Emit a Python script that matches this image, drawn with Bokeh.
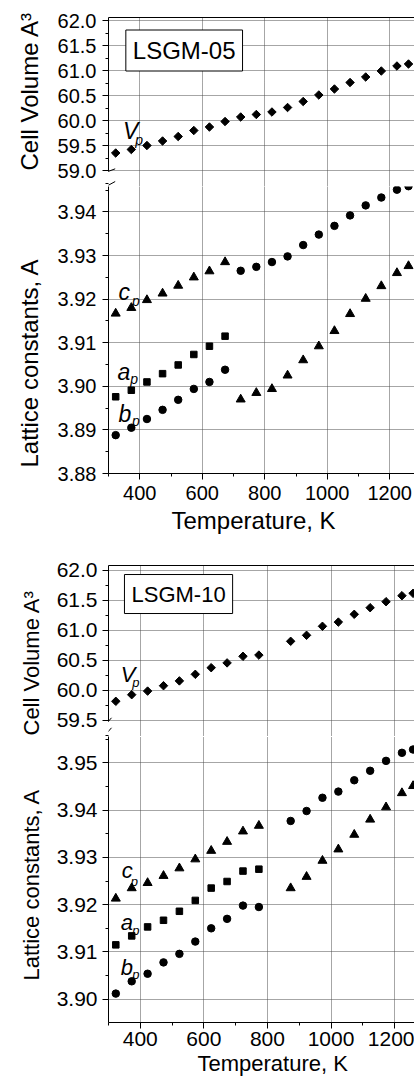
import numpy as np
from bokeh.plotting import figure
from bokeh.models import FixedTicker, PrintfTickFormatter, Label, Arrow, LinearAxis, Range1d, Title
from bokeh.layouts import column
from bokeh.embed import file_html
from bokeh.resources import INLINE

FONT = "Liberation Sans"

# ---------------- data: LSGM-05 ----------------
T05 = [323, 373, 423, 473, 523, 573, 623, 673, 723, 773,
       823, 873, 923, 973, 1023, 1073, 1123, 1173, 1223, 1260]
V05 = [59.35, 59.42, 59.50, 59.59, 59.68, 59.80, 59.87, 59.98, 60.07, 60.12,
       60.17, 60.26, 60.38, 60.51, 60.63, 60.76, 60.87, 60.99, 61.09, 61.13]
TRI05 = [3.9167, 3.9180, 3.9198, 3.9213, 3.9231, 3.9250, 3.9264, 3.9285,
         3.8970, 3.8985, 3.8994, 3.9025, 3.9060, 3.9092, 3.9127, 3.9166,
         3.9201, 3.9230, 3.9260, 3.9276]
CIRC05 = [3.8888, 3.8905, 3.8925, 3.8946, 3.8969, 3.8994, 3.9010, 3.9038,
          3.9265, 3.9274, 3.9285, 3.9298, 3.9324, 3.9348, 3.9368, 3.9392,
          3.9415, 3.9433, 3.9451, 3.9459]
TSQ05 = [323, 373, 423, 473, 523, 573, 623, 673]
SQ05 = [3.8976, 3.8991, 3.9010, 3.9029, 3.9049, 3.9073, 3.9092, 3.9115]

# ---------------- data: LSGM-10 ----------------
T10 = [323, 373, 423, 473, 523, 573, 623, 673, 723, 773,
       873, 923, 973, 1023, 1073, 1123, 1173, 1223, 1258]
V10 = [59.82, 59.93, 59.99, 60.08, 60.16, 60.27, 60.38, 60.46, 60.57, 60.59,
       60.82, 60.92, 61.07, 61.14, 61.27, 61.38, 61.48, 61.58, 61.62]
TRI10 = [3.9213, 3.9235, 3.9246, 3.9261, 3.9277, 3.9296, 3.9314, 3.9333, 3.9355, 3.9367,
         3.9235, 3.9259, 3.9293, 3.9317, 3.9348, 3.9380, 3.9406, 3.9436, 3.9451]
CIRC10 = [3.9012, 3.9038, 3.9054, 3.9078, 3.9096, 3.9122, 3.9150, 3.9170, 3.9198, 3.9195,
          3.9377, 3.9398, 3.9426, 3.9439, 3.9463, 3.9483, 3.9504, 3.9521, 3.9528]
TSQ10 = [323, 373, 423, 473, 523, 573, 623, 673, 723, 773]
SQ10 = [3.9115, 3.9134, 3.9153, 3.9167, 3.9186, 3.9209, 3.9235, 3.9249, 3.9271, 3.9275]

# ---------------- ticks ----------------
X_TICKS = [400, 600, 800, 1000, 1200]
X_MINOR = [300, 500, 700, 900, 1100, 1300]
V_TICKS_05 = [59.0, 59.5, 60.0, 60.5, 61.0, 61.5, 62.0]
L_TICKS_05 = [3.88, 3.89, 3.90, 3.91, 3.92, 3.93, 3.94]
V_TICKS_10 = [59.5, 60.0, 60.5, 61.0, 61.5, 62.0]
L_TICKS_10 = [3.90, 3.91, 3.92, 3.93, 3.94, 3.95]


def minor_of(ticks):
    step = ticks[1] - ticks[0]
    return [round(t + step / 2, 4) for t in ticks] + [round(ticks[0] - step / 2, 4)]


def style_axis(ax, fs, standoff):
    ax.axis_line_color = "black"
    ax.major_tick_line_color = "black"
    ax.minor_tick_line_color = "black"
    ax.major_tick_out = 6
    ax.major_tick_in = 0
    ax.minor_tick_out = 3
    ax.minor_tick_in = 0
    ax.major_label_text_font = FONT
    ax.major_label_text_font_size = fs
    ax.major_label_text_color = "black"
    ax.major_label_standoff = standoff


def style_grid(p):
    for g in (p.xgrid, p.ygrid):
        g.grid_line_color = "#4d4d4d"
        g.grid_line_dash = "1 1"
        g.grid_line_width = 1


def make_fig(xr, yr, w, h, bl, bt, bb):
    p = figure(width=w, height=h, x_range=xr, y_range=yr, output_backend="svg",
               toolbar_location=None, min_border_left=bl, min_border_right=0,
               min_border_top=bt, min_border_bottom=bb)
    p.outline_line_color = None
    p.background_fill_color = "white"
    p.border_fill_color = "white"
    return p


def side_title(text, fs, offset, standoff):
    return Title(text=text, text_font=FONT, text_font_size=fs, text_font_style="normal",
                 text_color="black", align="left", offset=offset, standoff=standoff)


def panel(cfg):
    xr = Range1d(300, cfg["xend"])
    up = make_fig(xr, Range1d(*cfg["vr"]), 414, cfg["hu"], cfg["bl"], cfg["bt"], 0)
    lo = make_fig(xr, Range1d(*cfg["lr"]), 414, cfg["hl"], cfg["bl"], 0, cfg["bb"])
    fs = cfg["tick_fs"]
    tfs = cfg["title_fs"]
    xt = FixedTicker(ticks=X_TICKS, minor_ticks=X_MINOR)

    # ---- upper (volume) ----
    up.xaxis.visible = False
    up.xgrid.ticker = FixedTicker(ticks=X_TICKS)
    top = LinearAxis(ticker=FixedTicker(ticks=[]), major_label_text_font_size="0px",
                     major_tick_out=0, major_tick_in=0, minor_tick_out=0, minor_tick_in=0,
                     major_label_standoff=0, axis_line_color="black")
    up.add_layout(top, "above")
    vt = FixedTicker(ticks=cfg["vticks"], minor_ticks=minor_of(cfg["vticks"]))
    up.yaxis.ticker = vt
    up.yaxis.formatter = PrintfTickFormatter(format="%.1f")
    up.yaxis.bounds = cfg["vbounds"]
    style_axis(up.yaxis[0], fs, cfg["ystand"])
    up.ygrid.ticker = FixedTicker(ticks=cfg["vticks"])
    style_grid(up)
    up.scatter(cfg["T"], cfg["V"], marker="square", angle=np.pi / 4, size=6,
               color="black")
    up.add_layout(side_title("Cell Volume A\u00b3", tfs, cfg["off_v"], cfg["stand_v"]), "left")

    # ---- lower (lattice constants) ----
    lo.xaxis.ticker = xt
    lo.xgrid.ticker = FixedTicker(ticks=X_TICKS)
    style_axis(lo.xaxis[0], fs, cfg["xstand"])
    lt = FixedTicker(ticks=cfg["lticks"], minor_ticks=minor_of(cfg["lticks"]))
    lo.yaxis.ticker = lt
    lo.yaxis.formatter = PrintfTickFormatter(format="%.2f")
    style_axis(lo.yaxis[0], fs, cfg["ystand"])
    lo.ygrid.ticker = FixedTicker(ticks=cfg["lticks"])
    style_grid(lo)
    lo.scatter(cfg["T"], cfg["TRI"], marker="triangle", size=9, color="black")
    lo.scatter(cfg["T"], cfg["CIRC"], marker="circle", size=7.5, color="black")
    lo.scatter(cfg["TSQ"], cfg["SQ"], marker="square", size=6.5, color="black")
    lo.add_layout(side_title("Lattice constants, A", tfs, cfg["off_l"], cfg["stand_l"]), "left")
    lo.add_layout(side_title("Temperature, K", tfs, cfg["off_x"], cfg["xttl_stand"]), "below")

    # sample box
    up.add_layout(Label(x=cfg["box"][0], y=cfg["box"][1], text=cfg["name"],
                        text_align="center", text_baseline="middle", text_font=FONT,
                        text_font_size=tfs, text_color="black", padding=7,
                        border_line_color="black", border_line_width=1,
                        background_fill_color="white"))
    # series letters
    lfs, sfs = cfg["let_fs"], cfg["sub_fs"]
    for fig, (lx, ly, sx, sy, letter) in [(up, cfg["Vp"])] + [(lo, v) for v in cfg["lat"]]:
        fig.add_layout(Label(x=lx, y=ly, text=letter, text_font=FONT, text_font_style="italic",
                             text_font_size=lfs, text_align="left", text_baseline="alphabetic",
                             text_color="black"))
        fig.add_layout(Label(x=sx, y=sy, text="p", text_font=FONT, text_font_style="italic",
                             text_font_size=sfs, text_align="left", text_baseline="alphabetic",
                             text_color="black"))
    # axis break marks (drawn in the volume sub-plot, just above the split)
    for (a, b, c, d) in cfg["brk"]:
        up.add_layout(Arrow(x_start=a, y_start=b, x_end=c, y_end=d, start=None, end=None,
                            line_color="black", line_width=1))
    return up, lo


cfg05 = dict(
    name="LSGM-05", T=T05, V=V05, TRI=TRI05, CIRC=CIRC05, TSQ=TSQ05, SQ=SQ05,
    xend=1279.2, vr=(58.68, 62.06), lr=(3.88, 3.94583), hu=186, hl=354, bl=108, bt=17, bb=67,
    vticks=V_TICKS_05, lticks=L_TICKS_05, vbounds=(58.98, 62.06),
    tick_fs="20px", title_fs="24px", let_fs="23px", sub_fs="14px", ystand=6, xstand=6,
    off_v=16, off_l=6, off_x=63, stand_v=23, stand_l=23, xttl_stand=5,
    box=(542.2, 61.4),
    Vp=(346, 59.786, 385.4, 59.61, "V"),
    lat=[(332, 3.92165, 374.9, 3.91961, "c"),
         (328.8, 3.90330, 369.4, 3.90163, "a"),
         (332, 3.89376, 374.9, 3.89200, "b")],
    brk=((278.9, 58.934, 321.4, 59.034), (278.9, 58.634, 321.4, 58.78)),
)

cfg10 = dict(
    name="LSGM-10", T=T10, V=V10, TRI=TRI10, CIRC=CIRC10, TSQ=TSQ10, SQ=SQ10,
    xend=1262.5, vr=(59.2333, 62.0833), lr=(3.89509, 3.95555), hu=196, hl=341, bl=106, bt=25, bb=55,
    vticks=V_TICKS_10, lticks=L_TICKS_10, vbounds=(59.483, 62.0833),
    tick_fs="21px", title_fs="22px", let_fs="22px", sub_fs="13px", ystand=5, xstand=3,
    off_v=1, off_l=42, off_x=89, stand_v=20, stand_l=19, xttl_stand=0,
    box=(520.3, 61.608),
    Vp=(338.4, 60.267, 375, 60.133, "V"),
    lat=[(341.6, 3.92723, 369.7, 3.92490, "c"),
         (338.4, 3.91630, 375, 3.91444, "a"),
         (338.4, 3.90679, 375, 3.90524, "b")],
    brk=((288.4, 59.4166, 309.4, 59.545), (288.4, 59.25, 309.4, 59.3783)),
)

u1, l1 = panel(cfg05)
u2, l2 = panel(cfg10)
layout = column(u1, l1, u2, l2, spacing=0)

open("out.html", "w").write(file_html(layout, INLINE))
